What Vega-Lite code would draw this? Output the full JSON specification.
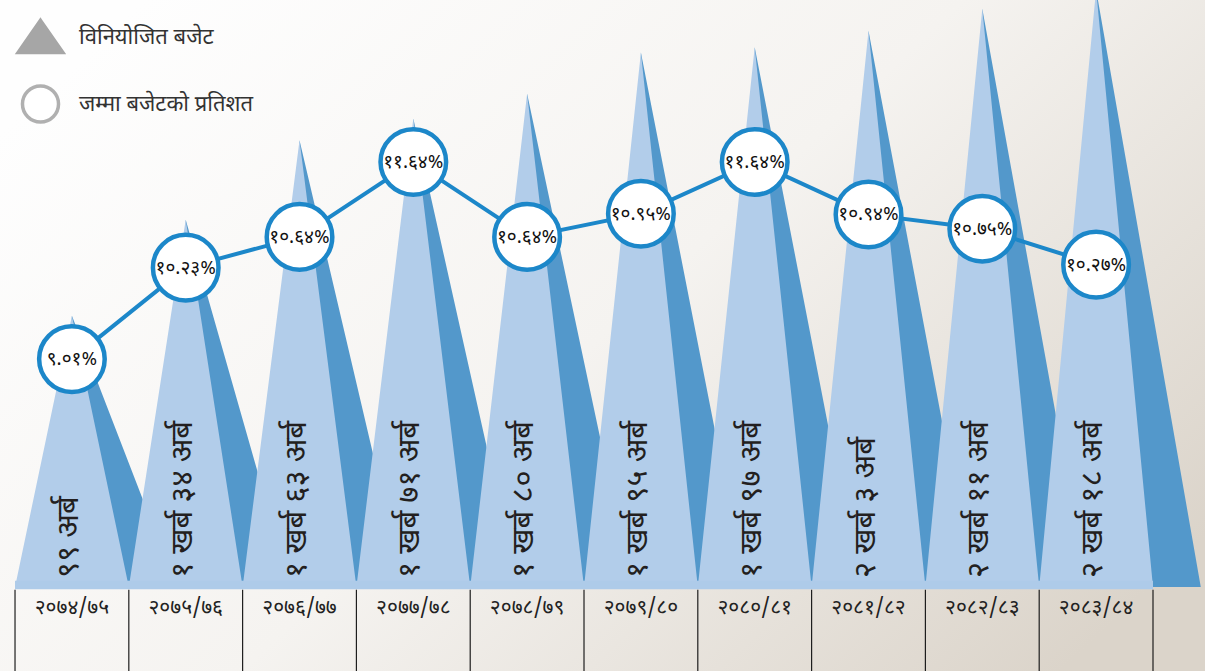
{
  "$schema": "https://vega.github.io/schema/vega-lite/v6.json",
  "width": 1205,
  "height": 671,
  "padding": 0,
  "autosize": {"type": "none"},
  "background": "#fbfaf8",
  "datasets": {
    "budget": [
      {"i": 1, "year": "२०७४/७५", "budget": 99, "budgetLabel": "९९ अर्ब", "pct": 9.01, "pctLabel": "९.०१%"},
      {"i": 2, "year": "२०७५/७६", "budget": 134, "budgetLabel": "१ खर्ब ३४ अर्ब", "pct": 10.23, "pctLabel": "१०.२३%"},
      {"i": 3, "year": "२०७६/७७", "budget": 163, "budgetLabel": "१ खर्ब ६३ अर्ब", "pct": 10.64, "pctLabel": "१०.६४%"},
      {"i": 4, "year": "२०७७/७८", "budget": 171, "budgetLabel": "१ खर्ब ७१ अर्ब", "pct": 11.64, "pctLabel": "११.६४%"},
      {"i": 5, "year": "२०७८/७९", "budget": 180, "budgetLabel": "१ खर्ब ८० अर्ब", "pct": 10.64, "pctLabel": "१०.६४%"},
      {"i": 6, "year": "२०७९/८०", "budget": 195, "budgetLabel": "१ खर्ब ९५ अर्ब", "pct": 10.95, "pctLabel": "१०.९५%"},
      {"i": 7, "year": "२०८०/८१", "budget": 197, "budgetLabel": "१ खर्ब ९७ अर्ब", "pct": 11.64, "pctLabel": "११.६४%"},
      {"i": 8, "year": "२०८१/८२", "budget": 203, "budgetLabel": "२ खर्ब ३ अर्ब", "pct": 10.94, "pctLabel": "१०.९४%"},
      {"i": 9, "year": "२०८२/८३", "budget": 211, "budgetLabel": "२ खर्ब ११ अर्ब", "pct": 10.75, "pctLabel": "१०.७५%"},
      {"i": 10, "year": "२०८३/८४", "budget": 218, "budgetLabel": "२ खर्ब १८ अर्ब", "pct": 10.27, "pctLabel": "१०.२७%"}
    ],
    "legend": [
      {"series": "विनियोजित बजेट"},
      {"series": "जम्मा बजेटको प्रतिशत"}
    ]
  },
  "data": {"name": "budget"},
  "resolve": {"scale": {"y": "independent"}},
  "layer": [
    {
      "layer": [
        {
          "data": {"values": [{}]},
          "mark": {"type": "rect", "fill": {"gradient": "linear", "x1": 0, "y1": 0.2, "x2": 1, "y2": 0.8, "stops": [{"offset": 0, "color": "#fefefe"}, {"offset": 0.5, "color": "#f5f3f0"}, {"offset": 1, "color": "#dbd4ca"}]}},
          "encoding": {
            "x": {"datum": 0.368, "type": "quantitative", "scale": {"domain": [0.368, 10.957], "nice": false, "zero": false}, "axis": null},
            "x2": {"datum": 10.957},
            "y": {"datum": -30.66, "type": "quantitative", "scale": {"domain": [-30.66, 214.2], "nice": false, "zero": false}, "axis": null},
            "y2": {"datum": 214.2}
          }
        },
        {
          "transform": [{"impute": "budget", "key": "i", "keyvals": [0.92, 1.92, 2.92, 3.92, 4.92, 5.92, 6.92, 7.92, 8.92, 9.92, 10.92], "method": "value", "value": 0}],
          "mark": {"type": "area", "color": "#5398cb", "interpolate": "linear", "opacity": 1},
          "encoding": {
            "x": {"field": "i", "type": "quantitative", "scale": {"domain": [0.368, 10.957], "nice": false, "zero": false}, "axis": null},
            "y": {"field": "budget", "type": "quantitative", "stack": null, "scale": {"domain": [-30.66, 214.2], "nice": false, "zero": false}, "axis": null}
          }
        },
        {
          "transform": [{"impute": "budget", "key": "i", "keyvals": [0.5, 1.5, 2.5, 3.5, 4.5, 5.5, 6.5, 7.5, 8.5, 9.5, 10.5], "method": "value", "value": 0}],
          "mark": {"type": "area", "color": "#b2cdea", "interpolate": "linear", "opacity": 1},
          "encoding": {
            "x": {"field": "i", "type": "quantitative", "scale": {"domain": [0.368, 10.957], "nice": false, "zero": false}, "axis": null},
            "y": {"field": "budget", "type": "quantitative", "stack": null, "scale": {"domain": [-30.66, 214.2], "nice": false, "zero": false}, "axis": null}
          }
        },
        {
          "data": {"values": [{}]},
          "mark": {"type": "rect", "fill": "#aecbe9"},
          "encoding": {
            "x": {"datum": 0.5, "type": "quantitative", "scale": {"domain": [0.368, 10.957], "nice": false, "zero": false}, "axis": null},
            "x2": {"datum": 10.5},
            "y": {"datum": -0.8, "type": "quantitative", "scale": {"domain": [-30.66, 214.2], "nice": false, "zero": false}, "axis": null},
            "y2": {"datum": 2.3}
          }
        },
        {
          "mark": {"type": "rule", "color": "#1e1e1e", "strokeWidth": 1.2, "xOffset": -56.9},
          "encoding": {
            "x": {"field": "i", "type": "quantitative", "scale": {"domain": [0.368, 10.957], "nice": false, "zero": false}, "axis": null},
            "y": {"datum": -1.0, "type": "quantitative", "scale": {"domain": [-30.66, 214.2], "nice": false, "zero": false}, "axis": null},
            "y2": {"datum": -30.66}
          }
        },
        {
          "data": {"values": [{}]},
          "mark": {"type": "rule", "color": "#1e1e1e", "strokeWidth": 1.2},
          "encoding": {
            "x": {"datum": 10.5, "type": "quantitative", "scale": {"domain": [0.368, 10.957], "nice": false, "zero": false}, "axis": null},
            "y": {"datum": -1.0, "type": "quantitative", "scale": {"domain": [-30.66, 214.2], "nice": false, "zero": false}, "axis": null},
            "y2": {"datum": -30.66}
          }
        },
        {
          "mark": {"type": "text", "angle": 270, "align": "left", "baseline": "middle", "fontSize": 31, "font": "Noto Sans Devanagari, Noto Sans, sans-serif", "color": "#231f20", "dy": -3},
          "encoding": {
            "x": {"field": "i", "type": "quantitative", "scale": {"domain": [0.368, 10.957], "nice": false, "zero": false}, "axis": null},
            "y": {"datum": 3.3, "type": "quantitative", "scale": {"domain": [-30.66, 214.2], "nice": false, "zero": false}, "axis": null},
            "text": {"field": "budgetLabel"}
          }
        },
        {
          "mark": {"type": "text", "baseline": "middle", "align": "center", "fontSize": 21, "font": "Noto Sans Devanagari, Noto Sans, sans-serif", "color": "#222222"},
          "encoding": {
            "x": {"field": "i", "type": "quantitative", "scale": {"domain": [0.368, 10.957], "nice": false, "zero": false}, "axis": null},
            "y": {"datum": -7.6, "type": "quantitative", "scale": {"domain": [-30.66, 214.2], "nice": false, "zero": false}, "axis": null},
            "text": {"field": "year"}
          }
        }
      ]
    },
    {
      "layer": [
        {
          "mark": {"type": "line", "color": "#1c87c9", "strokeWidth": 4},
          "encoding": {
            "x": {"field": "i", "type": "quantitative", "scale": {"domain": [0.368, 10.957], "nice": false, "zero": false}, "axis": null},
            "y": {"field": "pct", "type": "quantitative", "scale": {"domain": [4.85, 13.8], "nice": false, "zero": false}, "axis": null}
          }
        },
        {
          "mark": {"type": "point", "shape": "circle", "filled": true, "fill": "white", "stroke": "#1c87c9", "strokeWidth": 4.5, "size": 4300, "opacity": 1},
          "encoding": {
            "x": {"field": "i", "type": "quantitative", "scale": {"domain": [0.368, 10.957], "nice": false, "zero": false}, "axis": null},
            "y": {"field": "pct", "type": "quantitative", "scale": {"domain": [4.85, 13.8], "nice": false, "zero": false}, "axis": null}
          }
        },
        {
          "mark": {"type": "text", "fontSize": 19, "font": "Noto Sans Devanagari, Noto Sans, sans-serif", "color": "#111111", "baseline": "middle", "align": "center"},
          "encoding": {
            "x": {"field": "i", "type": "quantitative", "scale": {"domain": [0.368, 10.957], "nice": false, "zero": false}, "axis": null},
            "y": {"field": "pct", "type": "quantitative", "scale": {"domain": [4.85, 13.8], "nice": false, "zero": false}, "axis": null},
            "text": {"field": "pctLabel"}
          }
        },
        {
          "data": {"name": "legend"},
          "mark": {"type": "point", "filled": true, "opacity": 1, "strokeWidth": 3.5},
          "encoding": {
            "x": {"field": "i", "type": "quantitative", "scale": {"domain": [0.368, 10.957], "nice": false, "zero": false}, "axis": null},
            "y": {"field": "pct", "type": "quantitative", "scale": {"domain": [4.85, 13.8], "nice": false, "zero": false}, "axis": null},
            "shape": {"field": "series", "type": "nominal", "scale": {"domain": ["विनियोजित बजेट", "जम्मा बजेटको प्रतिशत"], "range": ["M0,-0.72L1,0.72L-1,0.72Z", "circle"]}, "legend": {"title": null, "orient": "none", "legendX": 16, "legendY": 12, "labelFontSize": 22, "labelFont": "Noto Sans Devanagari, Noto Sans, sans-serif", "labelColor": "#333333", "labelOffset": 14, "labelLimit": 500, "rowPadding": 18, "symbolStrokeWidth": 3.5, "symbolOpacity": 1, "padding": 0}},
            "fill": {"field": "series", "type": "nominal", "scale": {"domain": ["विनियोजित बजेट", "जम्मा बजेटको प्रतिशत"], "range": ["#a6a6a6", "#ffffff"]}, "legend": {"title": null, "orient": "none", "legendX": 16, "legendY": 12, "labelFontSize": 22, "labelFont": "Noto Sans Devanagari, Noto Sans, sans-serif", "labelColor": "#333333", "labelOffset": 14, "labelLimit": 500, "rowPadding": 18, "symbolStrokeWidth": 3.5, "symbolOpacity": 1, "padding": 0}},
            "stroke": {"field": "series", "type": "nominal", "scale": {"domain": ["विनियोजित बजेट", "जम्मा बजेटको प्रतिशत"], "range": ["#a6a6a6", "#b0b0b0"]}, "legend": {"title": null, "orient": "none", "legendX": 16, "legendY": 12, "labelFontSize": 22, "labelFont": "Noto Sans Devanagari, Noto Sans, sans-serif", "labelColor": "#333333", "labelOffset": 14, "labelLimit": 500, "rowPadding": 18, "symbolStrokeWidth": 3.5, "symbolOpacity": 1, "padding": 0}},
            "size": {"field": "series", "type": "nominal", "scale": {"domain": ["विनियोजित बजेट", "जम्मा बजेटको प्रतिशत"], "range": [2000, 1300]}, "legend": {"title": null, "orient": "none", "legendX": 16, "legendY": 12, "labelFontSize": 22, "labelFont": "Noto Sans Devanagari, Noto Sans, sans-serif", "labelColor": "#333333", "labelOffset": 14, "labelLimit": 500, "rowPadding": 18, "symbolStrokeWidth": 3.5, "symbolOpacity": 1, "padding": 0}}
          }
        }
      ]
    }
  ],
  "config": {"view": {"stroke": null}}
}
